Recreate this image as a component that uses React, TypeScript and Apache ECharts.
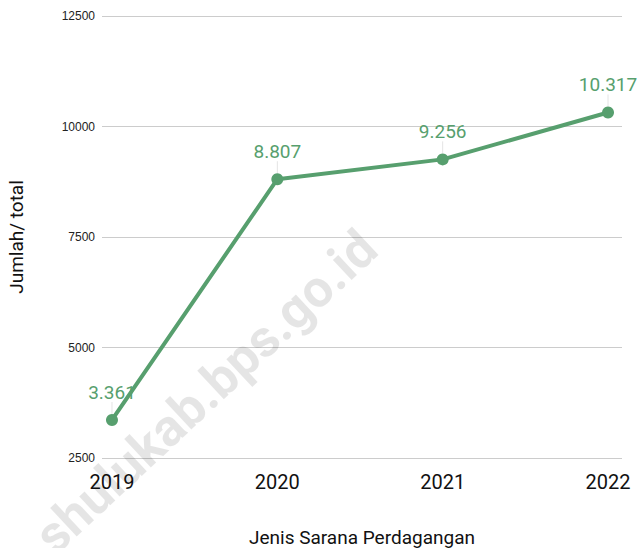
import React, { useEffect, useRef } from "react";
import * as echarts from "echarts";

const years = [2019, 2020, 2021, 2022];
const totals = [3361, 8807, 9256, 10317];
const yTicks = [2500, 5000, 7500, 10000, 12500];

const GREEN = "#579f6e";

export default function App() {
  const ref = useRef<HTMLDivElement>(null);
  useEffect(() => {
    if (!ref.current) return;
    const chart = echarts.init(ref.current, undefined, { renderer: "svg" });
    const fmt = (v: number) => v.toString().replace(/\B(?=(\d{3})+(?!\d))/g, ".");
    chart.setOption({
      animation: false,
      backgroundColor: "#ffffff",
      grid: { left: 102, right: 18, top: 16, bottom: 90, outerBoundsMode: "none", containLabel: false },
      xAxis: {
        type: "value",
        min: 2019 - 10 / 165.5,
        max: 2022 + 14 / 165.5,
        name: "Jenis Sarana Perdagangan",
        nameLocation: "middle",
        nameGap: 70,
        nameTextStyle: { fontFamily: "Roboto", fontSize: 19, color: "#111" },
        axisLine: { show: false },
        axisTick: { show: false },
        splitLine: { show: false },
        axisLabel: {
          customValues: years,
          formatter: (v: number) => String(v),
          fontFamily: "Roboto",
          fontSize: 20,
          color: "#111",
          margin: 14,
        },
      },
      yAxis: {
        type: "value",
        min: yTicks[0],
        max: yTicks[yTicks.length - 1],
        interval: 2500,
        name: "Jumlah/ total",
        nameLocation: "middle",
        nameGap: 76,
        nameTextStyle: { fontFamily: "Roboto", fontSize: 19, color: "#111" },
        axisLine: { show: false },
        axisTick: { show: false },
        splitLine: { lineStyle: { color: "#cccccc", width: 1 } },
        axisLabel: {
          formatter: (v: number) => String(v),
          fontFamily: "Liberation Sans",
          fontSize: 12,
          color: "#222",
          margin: 7,
        },
      },
      series: [
        {
          type: "line",
          data: years.map((y, i) => [y, totals[i]]),
          lineStyle: { color: GREEN, width: 4 },
          itemStyle: { color: GREEN },
          symbol: "circle",
          symbolSize: 12,
          label: {
            show: true,
            position: "top",
            distance: 8,
            formatter: (p: any) => fmt(p.value[1]),
            fontFamily: "Roboto",
            fontSize: 19,
            color: GREEN,
          },
          labelLayout: { dy: -4 },
          labelLine: { show: true, lineStyle: { color: "#e4e4e4", width: 1 } },
        },
      ],
      graphic: [
        {
          type: "text",
          x: 206,
          y: 392,
          rotation: (43 * Math.PI) / 180,
          z: 100,
          silent: true,
          style: {
            text: "shulukab.bps.go.id",
            fontFamily: "Roboto",
            fontWeight: "bold",
            fontSize: 52,
            fill: "rgba(0,0,0,0.1)",
            textAlign: "center",
            textVerticalAlign: "middle",
          },
        },
      ],
    });
    return () => chart.dispose();
  }, []);
  return <div ref={ref} style={{ width: 640, height: 548, position: "fixed", left: 0, top: 0 }} />;
}
